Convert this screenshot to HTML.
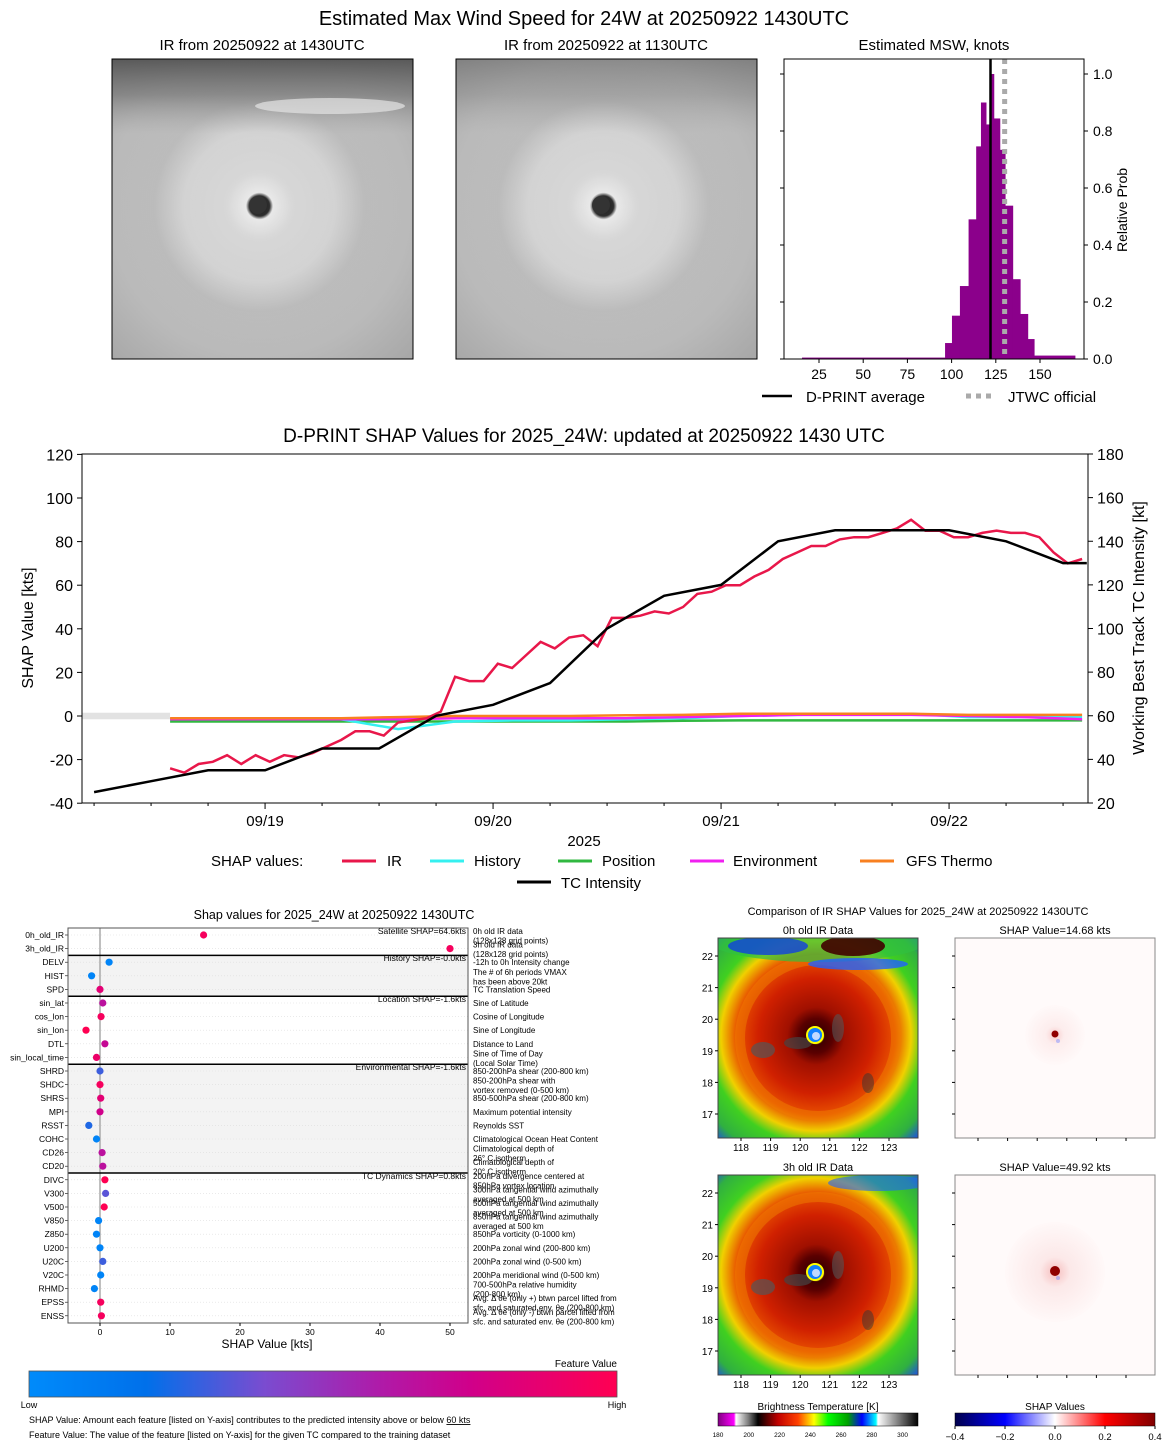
<!DOCTYPE html>
<html><head><meta charset="utf-8"><style>
html,body{margin:0;padding:0;background:#fff;}
svg{display:block;font-family:"Liberation Sans","DejaVu Sans",sans-serif;}
</style></head><body>
<svg id="fig" width="1168" height="1446" viewBox="0 0 1168 1446" xmlns="http://www.w3.org/2000/svg">
<defs>
<radialGradient id="ir1" cx="0.49" cy="0.49" r="0.75">
<stop offset="0" stop-color="#1c1c1c"/><stop offset="0.045" stop-color="#2a2a2a"/><stop offset="0.06" stop-color="#e8e8e8"/>
<stop offset="0.15" stop-color="#d4d4d4"/><stop offset="0.4" stop-color="#c8c8c8"/><stop offset="0.7" stop-color="#b8b8b8"/><stop offset="1" stop-color="#a4a4a4"/>
</radialGradient>
<radialGradient id="ir1b" cx="0.49" cy="0.49" r="0.5">
<stop offset="0" stop-color="#fff" stop-opacity="0"/><stop offset="0.5" stop-color="#fff" stop-opacity="0.15"/><stop offset="0.7" stop-color="#888" stop-opacity="0.15"/><stop offset="1" stop-color="#888" stop-opacity="0"/>
</radialGradient>
<linearGradient id="irTop" x1="0" y1="0" x2="0" y2="1"><stop offset="0" stop-color="#505050" stop-opacity="0.9"/><stop offset="0.12" stop-color="#6a6a6a" stop-opacity="0.6"/><stop offset="0.25" stop-color="#999" stop-opacity="0"/></linearGradient>
<radialGradient id="irc" cx="0.49" cy="0.49" r="0.72">
<stop offset="0" stop-color="#1060ff"/><stop offset="0.03" stop-color="#20c0ff"/><stop offset="0.045" stop-color="#ffff00"/><stop offset="0.06" stop-color="#400000"/>
<stop offset="0.12" stop-color="#5a0000"/><stop offset="0.2" stop-color="#a01000"/><stop offset="0.4" stop-color="#d02000"/><stop offset="0.55" stop-color="#e85000"/>
<stop offset="0.66" stop-color="#f0d000"/><stop offset="0.75" stop-color="#40d020"/><stop offset="0.9" stop-color="#30b040"/><stop offset="1" stop-color="#2050e0"/>
</radialGradient>
<radialGradient id="shapc" cx="0.5" cy="0.5" r="0.5">
<stop offset="0" stop-color="#f4b0b0"/><stop offset="0.3" stop-color="#fbe4e4"/><stop offset="1" stop-color="#fff8f8"/>
</radialGradient>
<linearGradient id="fvbar" x1="0" x2="1">
<stop offset="0" stop-color="#008bfb"/><stop offset="0.2" stop-color="#0070ea"/><stop offset="0.4" stop-color="#7a4cd0"/><stop offset="0.6" stop-color="#b01aa8"/><stop offset="0.75" stop-color="#d0008a"/><stop offset="1" stop-color="#ff0052"/>
</linearGradient>
<linearGradient id="btbar" x1="0" x2="1">
<stop offset="0" stop-color="#800080"/><stop offset="0.08" stop-color="#ff00ff"/><stop offset="0.09" stop-color="#ffffff"/><stop offset="0.15" stop-color="#808080"/><stop offset="0.2" stop-color="#000"/>
<stop offset="0.3" stop-color="#c00000"/><stop offset="0.4" stop-color="#ff4000"/><stop offset="0.48" stop-color="#ffff00"/><stop offset="0.55" stop-color="#00ff00"/><stop offset="0.65" stop-color="#00a000"/>
<stop offset="0.72" stop-color="#0000ff"/><stop offset="0.79" stop-color="#00ffff"/><stop offset="0.8" stop-color="#ffffff"/><stop offset="1" stop-color="#000"/>
</linearGradient>
<linearGradient id="seis" x1="0" x2="1">
<stop offset="0" stop-color="#00004c"/><stop offset="0.25" stop-color="#0000ff"/><stop offset="0.5" stop-color="#ffffff"/><stop offset="0.75" stop-color="#ff0000"/><stop offset="1" stop-color="#800000"/>
</linearGradient>
</defs>

<text x="584" y="25" font-size="20" text-anchor="middle">Estimated Max Wind Speed for 24W at 20250922 1430UTC</text>

<text x="262" y="50" font-size="15" text-anchor="middle">IR from 20250922 at 1430UTC</text>
<g>
<rect x="112" y="59" width="301" height="300" fill="url(#ir1)"/>
<rect x="112" y="59" width="301" height="300" fill="url(#ir1b)"/>
<rect x="112" y="59" width="301" height="300" fill="url(#irTop)"/>
<ellipse cx="330" cy="106" rx="75" ry="8" fill="#e4e4e4" opacity="0.7"/>
<circle cx="258" cy="205" r="9" fill="#333"/>
<rect x="112" y="59" width="301" height="300" fill="none" stroke="#000"/>
</g>
<text x="606" y="50" font-size="15" text-anchor="middle">IR from 20250922 at 1130UTC</text>
<g>
<rect x="456" y="59" width="301" height="300" fill="url(#ir1)"/>
<rect x="456" y="59" width="301" height="300" fill="url(#ir1b)"/>
<rect x="456" y="59" width="301" height="300" fill="url(#irTop)" opacity="0.5"/>
<circle cx="601" cy="205" r="9" fill="#333"/>
<rect x="456" y="59" width="301" height="300" fill="none" stroke="#000"/>
</g>

<text x="934" y="50" font-size="15" text-anchor="middle">Estimated MSW, knots</text>
<g id="hist"></g>
<text transform="translate(1127,210) rotate(-90)" font-size="14" text-anchor="middle">Relative Prob</text>
<g>
<line x1="762" y1="396" x2="792" y2="396" stroke="#000" stroke-width="2.5"/>
<text x="806" y="402" font-size="15">D-PRINT average</text>
<line x1="966" y1="396" x2="996" y2="396" stroke="#aaa" stroke-width="5" stroke-dasharray="5,5"/>
<text x="1008" y="402" font-size="15">JTWC official</text>
</g>

<text x="584" y="442" font-size="19" text-anchor="middle">D-PRINT SHAP Values for 2025_24W: updated at 20250922 1430 UTC</text>
<g id="main"></g>
<text transform="translate(33,628) rotate(-90)" font-size="16" text-anchor="middle">SHAP Value [kts]</text>
<text transform="translate(1144,628) rotate(-90)" font-size="16" text-anchor="middle">Working Best Track TC Intensity [kt]</text>
<text x="584" y="846" font-size="15" text-anchor="middle">2025</text>
<g font-size="15">
<text x="211" y="866">SHAP values:</text>
<line x1="342" y1="861" x2="376" y2="861" stroke="#e8174a" stroke-width="3"/><text x="387" y="866">IR</text>
<line x1="430" y1="861" x2="464" y2="861" stroke="#35f0f0" stroke-width="3"/><text x="474" y="866">History</text>
<line x1="558" y1="861" x2="592" y2="861" stroke="#30b840" stroke-width="3"/><text x="602" y="866">Position</text>
<line x1="690" y1="861" x2="724" y2="861" stroke="#f020f0" stroke-width="3"/><text x="733" y="866">Environment</text>
<line x1="860" y1="861" x2="894" y2="861" stroke="#f88020" stroke-width="3"/><text x="906" y="866">GFS Thermo</text>
<line x1="517" y1="882" x2="551" y2="882" stroke="#000" stroke-width="3"/><text x="561" y="888">TC Intensity</text>
</g>

<text x="334" y="919" font-size="12.5" text-anchor="middle">Shap values for 2025_24W at 20250922 1430UTC</text>
<g id="summ"></g>
<text x="267" y="1348" font-size="12" text-anchor="middle">SHAP Value [kts]</text>
<g>
<text x="617" y="1367" font-size="10" text-anchor="end">Feature Value</text>
<rect x="29" y="1371" width="588" height="26" fill="url(#fvbar)" stroke="#555" stroke-width="0.8"/>
<text x="29" y="1408" font-size="9" text-anchor="middle">Low</text>
<text x="617" y="1408" font-size="9" text-anchor="middle">High</text>
</g>
<text x="29" y="1423" font-size="9">SHAP Value: Amount each feature [listed on Y-axis] contributes to the predicted intensity above or below <tspan text-decoration="underline">60 kts</tspan></text>
<text x="29" y="1438" font-size="9">Feature Value: The value of the feature [listed on Y-axis] for the given TC compared to the training dataset</text>

<text x="918" y="915" font-size="11" text-anchor="middle">Comparison of IR SHAP Values for 2025_24W at 20250922 1430UTC</text>
<g id="cmp"></g>
</svg>
<script>
const NS='http://www.w3.org/2000/svg';
function mk(tag,attrs,parent){const e=document.createElementNS(NS,tag);for(const k in attrs)e.setAttribute(k,attrs[k]);parent.appendChild(e);return e;}
function txt(s,attrs,parent){const e=mk('text',attrs,parent);e.textContent=s;return e;}

const histLo=[15.4,96.3,100.2,104.7,109.6,113.9,116.6,119.5,122.1,123.9,127.3,130.3,134.6,138.8,143.1,146.7];
const histHi=[96.3,100.2,104.7,109.6,113.9,116.6,119.5,122.1,123.9,127.3,130.3,134.6,138.8,143.1,146.7,169.8];
const histProb=[0.005,0.056,0.152,0.256,0.49,0.746,0.9,0.823,1.0,0.844,0.734,0.538,0.28,0.158,0.07,0.012];
const dprintAvg=122;
const jtwcOfficial=130;
const histXTicks=[25,50,75,100,125,150];
const histYTicks=[0,0.2,0.4,0.6,0.8,1.0];
(function(){
 const g=document.getElementById('hist');
 const X0=784,X1=1084,Y0=59,Y1=359;
 const hx=v=>X0+(v-5.2)*1.768, hy=p=>359-p*285;
 histProb.forEach((p,i)=>{
  const r=mk('rect',{x:hx(histLo[i]),y:hy(p),width:hx(histHi[i])-hx(histLo[i])+0.4,height:359-hy(p),fill:'#8b008b'},g);
  
  
 });
 const a=mk('line',{x1:hx(dprintAvg),x2:hx(dprintAvg),y1:Y0,y2:Y1,stroke:'#000','stroke-width':2.5},g);
 
 
 const j=mk('line',{x1:hx(jtwcOfficial),x2:hx(jtwcOfficial),y1:Y0,y2:Y1,stroke:'#aaa','stroke-width':5,'stroke-dasharray':'5,5'},g);
 
 
 mk('rect',{x:X0,y:Y0,width:X1-X0,height:Y1-Y0,fill:'none',stroke:'#000'},g);
 histXTicks.forEach(t=>{mk('line',{x1:hx(t),x2:hx(t),y1:Y1,y2:Y1+4,stroke:'#000'},g);
  const l=txt(String(t),{x:hx(t),y:Y1+20,'font-size':14,'text-anchor':'middle'},g);
  
  });
 histYTicks.forEach(t=>{mk('line',{x1:X1,x2:X1+4,y1:hy(t),y2:hy(t),stroke:'#000'},g);
  mk('line',{x1:X0,x2:X0-4,y1:hy(t),y2:hy(t),stroke:'#000'},g);
  const l=txt(t.toFixed(1),{x:X1+9,y:hy(t)+5,'font-size':14},g);
  
  });
})();

const irHours=[14,15.5,17,18.5,20,21.5,23,24.5,26,27.5,29,30.5,32,33.5,35,36.5,38,39.5,41,42.5,44,45.5,47,48.5,50,51.5,53,54.5,56,57.5,59,60.5,62,63.5,65,66.5,68,69.5,71,72.5,74,75.5,77,78.5,80,81.5,83,84.5,86,87.5,89,90.5,92,93.5,95,96.5,98,99.5,101,102.5,104,105.5,107,108.5,110];
const irShap=[-24,-26,-22,-21,-18,-22,-18,-21,-18,-19,-17,-14,-11,-7,-7,-9,-3,-2,-1,2,18,16,16,24,22,28,34,31,36,37,32,45,45,46,48,47,50,56,57,60,60,64,67,72,75,78,78,81,82,82,84,86,90,85,85,82,82,84,85,84,84,82,75,70,72];
const compHours=[14,20,26,32,38,44,50,56,62,68,74,80,86,92,98,104,110];
const historyShap=[-1.5,-1.5,-1.5,-1.5,-6,-2.5,-2,-2,-1.5,-1,0,0.5,1,1,-0.5,-0.5,-0.5];
const positionShap=[-2.5,-2.5,-2.5,-2.5,-2.5,-2.5,-2.5,-2.5,-2.5,-2.2,-2,-2,-2,-2,-2,-2,-2];
const environmentShap=[-1.5,-1.5,-1.5,-1.5,-1.5,-1,-1,-1,-1,-0.5,0,0.5,0.5,0.5,0,-0.5,-1.5];
const gfsShap=[-1,-1,-1,-1,-0.5,0,0,0,0.3,0.5,1,1,1,1,0.5,0.5,0.5];
const tcHours=[6,12,18,24,30,36,42,48,54,60,66,72,78,84,90,96,102,108,110.5];
const tcIntensity=[25,30,35,35,45,45,60,65,75,100,115,120,140,145,145,145,140,130,130];
const leftTicks=[-40,-20,0,20,40,60,80,100,120];
const rightTicks=[20,40,60,80,100,120,140,160,180];
const dateTickHours=[24,48,72,96];
const dateTickLabels=['09/19','09/20','09/21','09/22'];
(function(){
 const g=document.getElementById('main');
 const X0=82,X1=1088,Y0=454,Y1=803;
 const xT=h=>X0+(h-4.73)*9.5, yL=v=>716-v*2.18, yR=k=>803-(k-20)*2.18125;
 const band=mk('rect',{x:X0,y:yL(1.5),width:xT(14)-X0,height:yL(-1.5)-yL(1.5),fill:'#e2e2e2'},g);
 
 
 function line(hs,vs,sc,color,w,name){
  const d=hs.map((h,i)=>(i?'L':'M')+xT(h).toFixed(1)+','+sc(vs[i]).toFixed(1)).join('');
  const p=mk('path',{d:d,fill:'none',stroke:color,'stroke-width':w,'stroke-linejoin':'miter'},g);
  
  
 }
 line(compHours,positionShap,yL,'#30b840',2.5,'position-series');
 line(compHours,historyShap,yL,'#35f0f0',2.5,'history-series');
 line(compHours,environmentShap,yL,'#f020f0',2.5,'environment-series');
 line(compHours,gfsShap,yL,'#f88020',2.5,'gfs-thermo-series');
 line(irHours,irShap,yL,'#e8174a',2.5,'ir-series');
 line(tcHours,tcIntensity,yR,'#000',2.5,'tc-intensity-series');
 mk('rect',{x:X0,y:Y0,width:X1-X0,height:Y1-Y0,fill:'none',stroke:'#000'},g);
 leftTicks.forEach(t=>{mk('line',{x1:X0-5,x2:X0,y1:yL(t),y2:yL(t),stroke:'#000'},g);
  const l=txt(String(t),{x:X0-9,y:yL(t)+6,'font-size':16,'text-anchor':'end'},g);
  
  });
 rightTicks.forEach(t=>{mk('line',{x1:X1,x2:X1+5,y1:yR(t),y2:yR(t),stroke:'#000'},g);
  const l=txt(String(t),{x:X1+9,y:yR(t)+6,'font-size':16},g);
  
  });
 for(let h=6;h<=108;h+=6){mk('line',{x1:xT(h),x2:xT(h),y1:Y1,y2:Y1+(h%24?3:6),stroke:'#000'},g);}
 dateTickHours.forEach((h,i)=>{const l=txt(dateTickLabels[i],{x:xT(h),y:826,'font-size':15,'text-anchor':'middle'},g);
  
  });
})();

const featNames=['0h_old_IR','3h_old_IR','DELV','HIST','SPD','sin_lat','cos_lon','sin_lon','DTL','sin_local_time','SHRD','SHDC','SHRS','MPI','RSST','COHC','CD26','CD20','DIVC','V300','V500','V850','Z850','U200','U20C','V20C','RHMD','EPSS','ENSS'];
const featShap=[14.8,50,1.3,-1.2,0,0.4,0.15,-2.0,0.7,-0.5,0,0,0.1,0,-1.6,-0.5,0.3,0.4,0.7,0.8,0.6,-0.2,-0.5,0,0.4,0.1,-0.8,0.1,0.2];
const featValue=[0.95,0.95,0.05,0.05,0.85,0.65,0.95,1.0,0.7,0.9,0.3,0.95,0.85,0.75,0.25,0.05,0.65,0.65,1.0,0.35,1.0,0.05,0.05,0.05,0.3,0.05,0.05,0.95,0.95];
const featDesc=[['0h old IR data','(128x128 grid points)'],['3h old IR data','(128x128 grid points)'],['-12h to 0h Intensity change'],['The # of 6h periods VMAX','has been above 20kt'],['TC Translation Speed'],['Sine of Latitude'],['Cosine of Longitude'],['Sine of Longitude'],['Distance to Land'],['Sine of Time of Day','(Local Solar Time)'],['850-200hPa shear (200-800 km)'],['850-200hPa shear with','vortex removed (0-500 km)'],['850-500hPa shear (200-800 km)'],['Maximum potential intensity'],['Reynolds SST'],['Climatological Ocean Heat Content'],['Climatological depth of','26° C isotherm'],['Climatological depth of','20° C isotherm'],['200hPa divergence centered at','850hPa vortex location'],['300hPa tangential wind azimuthally','averaged at 500 km'],['500hPa tangential wind azimuthally','averaged at 500 km'],['850hPa tangential wind azimuthally','averaged at 500 km'],['850hPa vorticity (0-1000 km)'],['200hPa zonal wind (200-800 km)'],['200hPa zonal wind (0-500 km)'],['200hPa meridional wind (0-500 km)'],['700-500hPa relative humidity','(200-800 km)'],['Avg. Δ θe (only +) btwn parcel lifted from','sfc. and saturated env. θe (200-800 km)'],['Avg. Δ θe (only -) btwn parcel lifted from','sfc. and saturated env. θe (200-800 km)']];
const groupStart=[0,2,5,10,18];
const groupEnd=[1,4,9,17,28];
const groupLabels=['Satellite SHAP=64.6kts','History SHAP=-0.0kts','Location SHAP=-1.6kts','Environmental SHAP=-1.6kts','TC Dynamics SHAP=0.8kts'];
const summXTicks=[0,10,20,30,40,50];
(function(){
 const g=document.getElementById('summ');
 const X0=68,X1=468,Y0=928,Y1=1323;
 const sx=v=>100+v*7.0, ry=i=>935+i*13.6;
 const stops=[[0,[0,139,251]],[0.2,[0,112,234]],[0.4,[122,76,208]],[0.6,[176,26,168]],[0.75,[208,0,138]],[1,[255,0,82]]];
 function cmap(t){for(let i=1;i<stops.length;i++){if(t<=stops[i][0]){const a=stops[i-1],b=stops[i],f=(t-a[0])/(b[0]-a[0]);return 'rgb('+a[1].map((c,k)=>Math.round(c+(b[1][k]-c)*f)).join(',')+')';}}return 'rgb(255,0,82)';}
 groupStart.forEach((s,k)=>{
  const top=k?ry(s)-6.8:Y0, bot=k<4?ry(groupEnd[k])+6.8:Y1;
  mk('rect',{x:X0,y:top,width:X1-X0,height:bot-top,fill:(k==1||k==3)?'#f3f3f3':'#fff'},g);
 });
 featNames.forEach((n,i)=>{
  mk('line',{x1:X0,x2:X1,y1:ry(i),y2:ry(i),stroke:'#ddd','stroke-width':0.6,'stroke-dasharray':'1,2'},g);
  mk('line',{x1:X0-3,x2:X0,y1:ry(i),y2:ry(i),stroke:'#000','stroke-width':0.6},g);
  const l=txt(n,{x:X0-4,y:ry(i)+3,'font-size':8.5,'text-anchor':'end'},g);
  
  
  const d=featDesc[i];
  const dt=txt('',{x:X1+5,y:ry(i)+(d.length>1?-1:3),'font-size':8},g);
  
  
  dt.textContent=d[0];
  if(d.length>1){const t2=txt(d[1],{x:X1+5,y:ry(i)+8.5,'font-size':8},g);
   
   }
 });
 mk('line',{x1:sx(0),x2:sx(0),y1:Y0,y2:Y1,stroke:'#aaa','stroke-width':1.5},g);
 groupStart.forEach((s,k)=>{
  if(k) mk('line',{x1:X0,x2:X1,y1:ry(s)-6.8,y2:ry(s)-6.8,stroke:'#000','stroke-width':1.5},g);
  const l=txt(groupLabels[k],{x:X1-2,y:ry(s)-1,'font-size':8.5,'text-anchor':'end'},g);
  
  
 });
 featShap.forEach((v,i)=>{
  const c=mk('circle',{cx:sx(v),cy:ry(i),r:3.6,fill:cmap(featValue[i])},g);
  
  
 });
 mk('rect',{x:X0,y:Y0,width:X1-X0,height:Y1-Y0,fill:'none',stroke:'#555'},g);
 summXTicks.forEach(t=>{mk('line',{x1:sx(t),x2:sx(t),y1:Y1,y2:Y1+3,stroke:'#000'},g);
  const l=txt(String(t),{x:sx(t),y:Y1+12,'font-size':8.5,'text-anchor':'middle'},g);
  
  });
})();

const lonTicks=[118,119,120,121,122,123];
const latTicks=[22,21,20,19,18,17];
const btTicks=[180,200,220,240,260,280,300];
const shapCbTicks=[-0.4,-0.2,0.0,0.2,0.4];
const panelTitles=['0h old IR Data','SHAP Value=14.68 kts','3h old IR Data','SHAP Value=49.92 kts'];
(function(){
 const g=document.getElementById('cmp');
 const lx=(v,x0)=>x0+23+(v-118)*29.6, ly=(v,y0)=>y0+18+(22-v)*31.6;
 [[718,938],[955,938],[718,1175],[955,1175]].forEach((p,k)=>{
  const [x0,y0]=p, ir=(k%2==0);
  const t=txt(panelTitles[k],{x:x0+100,y:y0-4,'font-size':11,'text-anchor':'middle'},g);
  
  
  const pg=mk('g',{},g);
  
  
  if(ir){
   const cp=mk('clipPath',{id:'cp'+k},pg);
   mk('rect',{x:x0,y:y0,width:200,height:200},cp);
   const ig=mk('g',{'clip-path':'url(#cp'+k+')'},pg);
   mk('rect',{x:x0,y:y0,width:200,height:200,fill:'url(#irc)'},ig);
   mk('circle',{cx:x0+100,cy:y0+100,r:78,fill:'none',stroke:'#f08000','stroke-width':10,opacity:0.5},ig);
   if(k==0){mk('ellipse',{cx:x0+100,cy:y0+2,rx:110,ry:22,fill:'#30c040',opacity:0.7},ig);
    mk('ellipse',{cx:x0+50,cy:y0+8,rx:40,ry:9,fill:'#1040e0',opacity:0.8},ig);
    mk('ellipse',{cx:x0+140,cy:y0+26,rx:50,ry:6,fill:'#2060ff',opacity:0.8},ig);
    mk('ellipse',{cx:x0+135,cy:y0+8,rx:32,ry:10,fill:'#400000',opacity:0.9},ig);}
   else {mk('ellipse',{cx:x0+160,cy:y0+8,rx:50,ry:8,fill:'#2060ff',opacity:0.6},ig);}
   mk('ellipse',{cx:x0+45,cy:y0+112,rx:12,ry:8,fill:'#555',opacity:0.7},ig);
   mk('ellipse',{cx:x0+80,cy:y0+105,rx:14,ry:6,fill:'#444',opacity:0.7},ig);
   mk('ellipse',{cx:x0+120,cy:y0+90,rx:6,ry:14,fill:'#555',opacity:0.6},ig);
   mk('ellipse',{cx:x0+150,cy:y0+145,rx:6,ry:10,fill:'#333',opacity:0.5},ig);
   mk('circle',{cx:lx(120.5,x0),cy:ly(19.5,y0),r:9,fill:'#ffff00'},ig);
   mk('circle',{cx:lx(120.5,x0),cy:ly(19.5,y0),r:7,fill:'#1080ff'},ig);
   mk('circle',{cx:lx(120.5,x0)+1,cy:ly(19.5,y0)+1,r:4,fill:'#c0d8ff'},ig);
   mk('rect',{x:x0,y:y0,width:200,height:200,fill:'none',stroke:'#444'},pg);
   lonTicks.forEach(v=>{mk('line',{x1:lx(v,x0),x2:lx(v,x0),y1:y0+200,y2:y0+203,stroke:'#000'},g);
    txt(String(v),{x:lx(v,x0),y:y0+213,'font-size':10,'text-anchor':'middle'},g);});
   latTicks.forEach(v=>{mk('line',{x1:x0-3,x2:x0,y1:ly(v,y0),y2:ly(v,y0),stroke:'#000'},g);
    txt(String(v),{x:x0-5,y:ly(v,y0)+4,'font-size':10,'text-anchor':'end'},g);});
  } else {
   mk('rect',{x:x0,y:y0,width:200,height:200,fill:'#fffafa'},pg);
   mk('circle',{cx:x0+100,cy:y0+97,r:k==1?30:50,fill:'url(#shapc)',opacity:k==1?0.6:0.8},pg);
   mk('circle',{cx:x0+100,cy:y0+96,r:k==1?3.5:5,fill:'#900000'},pg);
   mk('circle',{cx:x0+103,cy:y0+103,r:2,fill:'#8090ff',opacity:0.5},pg);
   mk('rect',{x:x0,y:y0,width:200,height:200,fill:'none',stroke:'#888'},pg);
   lonTicks.forEach(v=>mk('line',{x1:lx(v,x0),x2:lx(v,x0),y1:y0+200,y2:y0+203,stroke:'#000'},g));
   latTicks.forEach(v=>mk('line',{x1:x0-3,x2:x0,y1:ly(v,y0),y2:ly(v,y0),stroke:'#000'},g));
  }
 });
 txt('Brightness Temperature [K]',{x:818,y:1410,'font-size':10,'text-anchor':'middle'},g);
 const b1=mk('rect',{x:718,y:1413,width:200,height:13,fill:'url(#btbar)',stroke:'#000','stroke-width':0.5},g);
 
 
 btTicks.forEach(v=>{const x=718+(v-180)/130*200;
  txt(String(v),{x:x,y:1437,'font-size':6.5,'text-anchor':'middle'},g);});
 txt('SHAP Values',{x:1055,y:1410,'font-size':10,'text-anchor':'middle'},g);
 const b2=mk('rect',{x:955,y:1413,width:200,height:13,fill:'url(#seis)',stroke:'#000','stroke-width':0.5},g);
 
 
 shapCbTicks.forEach(v=>{const x=955+(v+0.4)/0.8*200;
  mk('line',{x1:x,x2:x,y1:1426,y2:1429,stroke:'#000'},g);
  txt(v.toFixed(1).replace('-','−'),{x:x,y:1440,'font-size':9.5,'text-anchor':'middle'},g);});
})();
</script>
</body></html>
